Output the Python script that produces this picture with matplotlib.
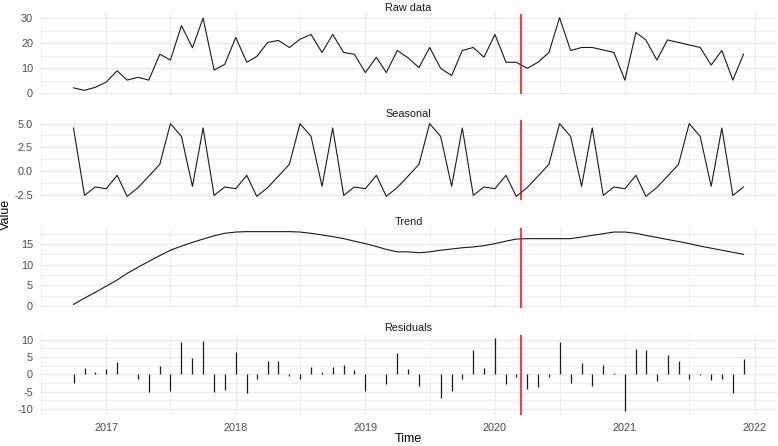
import numpy as np
import pandas as pd
import matplotlib
matplotlib.use("Agg")
import matplotlib.pyplot as plt
import matplotlib.dates as mdates
from matplotlib.ticker import MultipleLocator, FormatStrFormatter

plt.rcParams["font.family"] = ["Liberation Sans", "DejaVu Sans"]
plt.rcParams["axes.unicode_minus"] = False

# ─── Data (monthly, Oct 2016 .. Dec 2021) ────────────────────────────────────

months = pd.date_range("2016-10-01", periods=63, freq="MS")
break_date = pd.Timestamp("2020-03-15")

raw = [2.2, 1.2, 2.4, 4.5, 9.0, 5.3, 6.4, 5.3, 15.6, 13.3, 27.0, 18.2,
       30.0, 9.3, 11.6, 22.3, 12.4, 14.7, 20.3, 21.1, 18.3, 21.6, 23.5, 16.3,
       23.5, 16.3, 15.6, 8.3, 14.4, 8.3, 17.1, 14.2, 10.3, 18.3, 10.0, 7.1,
       17.1, 18.3, 14.4, 23.5, 12.4, 12.4, 10.0, 12.4, 16.3, 30.2, 17.1, 18.3,
       18.3, 17.3, 16.3, 5.3, 24.3, 21.3, 13.3, 21.3, 20.3, 19.3, 18.3, 11.3,
       17.1, 5.3, 15.6]

# one seasonal cycle, Jan..Dec
season_cycle = [-1.87, -0.46, -2.68, -1.75, -0.55, 0.70,
                5.00, 3.65, -1.62, 4.54, -2.58, -1.69]
seasonal = [season_cycle[(m.month - 1)] for m in months]

trend = [0.4, 1.9, 3.3, 4.8, 6.3, 7.9, 9.4, 10.8, 12.2, 13.5, 14.5, 15.4,
         16.2, 17.0, 17.6, 17.9, 18.0, 18.0, 18.0, 18.0, 18.0, 17.9, 17.6, 17.2,
         16.8, 16.3, 15.7, 15.1, 14.4, 13.7, 13.1, 13.1, 12.9, 13.1, 13.5, 13.8,
         14.1, 14.3, 14.6, 15.1, 15.7, 16.2, 16.3, 16.3, 16.3, 16.3, 16.3, 16.7,
         17.1, 17.5, 17.9, 17.9, 17.6, 17.1, 16.6, 16.1, 15.6, 15.1, 14.5, 14.0,
         13.5, 13.0, 12.5]

resid = [-2.6, 1.9, 0.8, 1.4, 3.5, 0.0, -1.3, -5.0, 2.4, -4.8, 9.4, 4.6,
         9.7, -5.0, -4.5, 6.4, -5.3, -1.2, 3.9, 3.7, -0.4, -1.3, 2.2, 0.7,
         2.2, 2.7, 1.2, -4.8, 0.0, -2.9, 6.0, 1.6, -3.4, 0.0, -6.9, -4.8,
         -1.2, 7.0, 1.7, 10.4, -2.8, -0.9, -4.3, -3.6, -0.7, 9.2, -2.6, 3.2,
         -3.4, 2.7, 0.4, -10.5, 7.2, 7.0, -1.9, 5.5, 3.8, -1.2, -0.2, -1.6,
         -1.2, -5.3, 4.4]

panel_titles = ["Raw data", "Seasonal", "Trend", "Residuals"]
panel_steps = [10, 2.5, 5, 5]

# ─── Figure ──────────────────────────────────────────────────────────────────

W, H = 778, 446
fig = plt.figure(figsize=(W / 100, H / 100), dpi=100, facecolor="white")

# panel pixel extents (top, bottom)
extents = [(14, 94), (120, 200), (228, 308), (334.5, 414.5)]
left_px, right_px = 40, 777

GRID = "#EBEBEB"
TICK_C = "#4D4D4D"
LINE_C = "#1A1A1A"

axes = []
for i, (top, bot) in enumerate(extents):
    ax = fig.add_axes([left_px / W, (H - bot) / H,
                       (right_px - left_px) / W, (bot - top) / H])
    axes.append(ax)

axes[0].plot(months, raw, color=LINE_C, lw=0.8)
axes[1].plot(months, seasonal, color=LINE_C, lw=0.8)
axes[2].plot(months, trend, color=LINE_C, lw=0.8)
axes[3].vlines(months, 0, resid, color=LINE_C, lw=0.9)

for i, ax in enumerate(axes):
    ax.axvline(break_date, color="#FF0000", lw=1.1, zorder=5)
    ax.margins(x=0.05, y=0.05)
    ax.set_facecolor("white")
    for s in ax.spines.values():
        s.set_visible(False)
    step = panel_steps[i]
    ax.yaxis.set_major_locator(MultipleLocator(step))
    ax.yaxis.set_minor_locator(MultipleLocator(step / 2))
    if i == 1:
        ax.yaxis.set_major_formatter(FormatStrFormatter("%.1f"))
    ax.xaxis.set_major_locator(mdates.YearLocator())
    ax.xaxis.set_minor_locator(mdates.MonthLocator(bymonth=7))
    ax.xaxis.set_major_formatter(mdates.DateFormatter("%Y"))
    ax.grid(True, which="major", color=GRID, lw=1.0)
    ax.grid(True, which="minor", color=GRID, lw=0.6)
    ax.set_axisbelow(True)
    ax.tick_params(which="both", length=0)
    ax.tick_params(axis="y", labelsize=7.8, labelcolor=TICK_C, pad=5)
    ax.tick_params(axis="x", labelsize=7.8, labelcolor=TICK_C, pad=6)
    if i < 3:
        ax.tick_params(axis="x", labelbottom=False)
    ax.set_title(panel_titles[i], fontsize=7.8, color="#1A1A1A", pad=2.5)

# date range with 5% expansion like ggplot
x0 = mdates.date2num(months[0])
x1 = mdates.date2num(months[-1])
pad = (x1 - x0) * 0.05
for ax in axes:
    ax.set_xlim(x0 - pad, x1 + pad)

fig.text(408 / W, 1 - 439 / H, "Time", fontsize=9,
         ha="center", va="center", color="black")
fig.text(6 / W, 1 - 214 / H, "Value", rotation=90, fontsize=9,
         ha="center", va="center", color="black")

plt.savefig("out.png", dpi=100, facecolor="white")
plt.close()
